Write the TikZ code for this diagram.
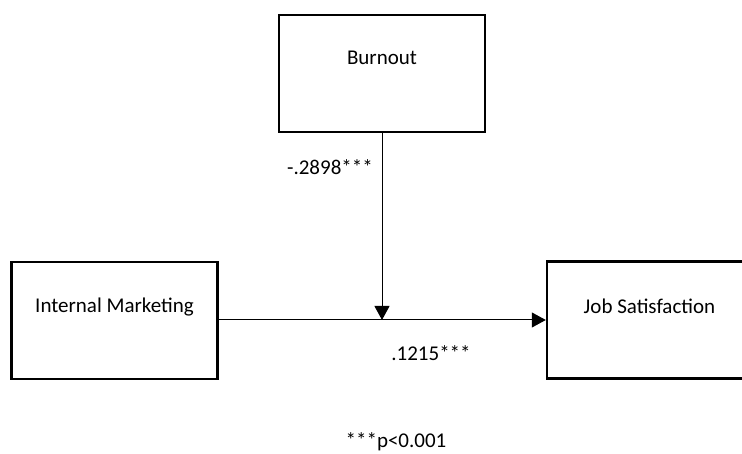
\documentclass[tikz,border=0pt]{standalone}
\usepackage{fontspec}
\setmainfont{Carlito}
\usetikzlibrary{arrows.meta}
\begin{document}
\begin{tikzpicture}[x=1pt,y=-1pt,
  box/.style={draw=black,line width=2.4pt,rectangle,inner sep=0pt,minimum width=206pt,minimum height=117pt},
  txt/.style={anchor=base,inner sep=0pt,font=\fontsize{21}{25}\selectfont},
  arr/.style={draw=black,line width=1pt,-{Triangle[length=14pt,width=15pt]}}]
\useasboundingbox (0,0) rectangle (742,454);
\clip (0,0) rectangle (742,454);
\fill[white] (0,0) rectangle (742,454);
\node[box] (burnout) at (382,73.5) {};
\node[box] (im) at (114.5,320.5) {};
\node[box,minimum width=205pt] (js) at (649.5,320) {};
\node[txt] (tb) at ([yshift=-51pt]burnout.north) {Burnout};
\node[txt] (ti) at ([yshift=-52pt]im.north) {Internal Marketing};
\node[txt] (tj) at ([yshift=-53pt]js.north) {Job Satisfaction};
\coordinate (m) at (burnout.south |- js.west);
\draw[arr] (im.east |- js.west) -- (js.west);
\draw[arr] (burnout.south) -- (m);
\node[txt,anchor=base east] (l1) at (373,175) {-.2898***};
\node[txt,anchor=base] (l2) at (431,361) {.1215***};
\node[txt,anchor=base] (l3) at (396,447) {***p<0.001};
\end{tikzpicture}
\end{document}
